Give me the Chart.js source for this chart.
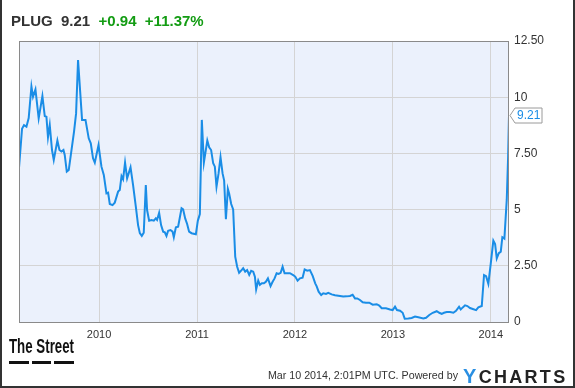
<!DOCTYPE html>
<html>
<head>
<meta charset="utf-8">
<script src="https://cdn.jsdelivr.net/npm/chart.js@4/dist/chart.umd.min.js"></script>
<style>
  html, body { margin: 0; padding: 0; background: #fff; }
  #wrap { position: relative; width: 575px; height: 388px; overflow: hidden; font-family: "Liberation Sans", Arial, sans-serif; }
  #frame { position: absolute; left: 0; top: 0; width: 575px; height: 388px; box-sizing: border-box;
           border-left: 2px solid #333; border-right: 2px solid #333; border-bottom: 2px solid #333; pointer-events: none; }
  canvas { position: absolute; left: 0; top: 0; }
  #title { position: absolute; left: 11px; top: 12px; font-size: 15px; font-weight: bold; color: #333; white-space: nowrap; }
  #title .up { color: #139c13; }
  #street { position: absolute; left: 9px; top: 336px; width: 66px; height: 30px; }
  #street .name { position: absolute; left: 0; top: 0; font-family: "Liberation Sans", Arial, sans-serif; font-weight: bold;
                  font-size: 18px; color: #111; line-height: 18px; white-space: nowrap;
                  transform-origin: top left; }
  #street .dash { position: absolute; top: 25px; height: 3px; background: #111; }
  #stamp { position: absolute; right: 117px; top: 369px; font-size: 10.7px; color: #333; white-space: nowrap; }
  #ycharts { position: absolute; left: 463px; top: 365px; font-size: 18px; font-weight: bold; letter-spacing: 2.3px; color: #222; white-space: nowrap; }
  #ycharts .y { color: #2a8fe2; font-size: 20px; }
</style>
</head>
<body>
<div id="wrap">
  <canvas id="chart" width="575" height="388"></canvas>
  <div id="title">PLUG&nbsp;&nbsp;9.21&nbsp;&nbsp;<span class="up">+0.94</span>&nbsp;&nbsp;<span class="up">+11.37%</span></div>
  <div id="street"><span class="name" id="streetName">The Street</span>
    <div class="dash" style="left:0;width:20px"></div>
    <div class="dash" style="left:23px;width:19px"></div>
    <div class="dash" style="left:45px;width:20px"></div>
  </div>
  <div id="stamp">Mar 10 2014, 2:01PM UTC. Powered by</div>
  <div id="ycharts"><span class="y">Y</span>CHARTS</div>
  <div id="frame"></div>
</div>
<script>
// PLUG share price, decimal years
const dates = [
  2009.182, 2009.213, 2009.233, 2009.258, 2009.281, 2009.309, 2009.325, 2009.350, 2009.383, 2009.421,
  2009.445, 2009.462, 2009.478, 2009.496, 2009.519, 2009.537, 2009.574, 2009.595, 2009.615, 2009.636,
  2009.649, 2009.670, 2009.690, 2009.718, 2009.744, 2009.765, 2009.785, 2009.826, 2009.861, 2009.894,
  2009.915, 2009.938, 2009.956, 2009.994, 2010.024, 2010.048, 2010.075, 2010.092, 2010.109, 2010.137,
  2010.160, 2010.194, 2010.211, 2010.229, 2010.245, 2010.265, 2010.286, 2010.321, 2010.347, 2010.375,
  2010.398, 2010.416, 2010.436, 2010.456, 2010.477, 2010.490, 2010.511, 2010.535, 2010.559, 2010.579,
  2010.592, 2010.613, 2010.633, 2010.654, 2010.671, 2010.688, 2010.705, 2010.729, 2010.750, 2010.763,
  2010.784, 2010.807, 2010.842, 2010.858, 2010.879, 2010.899, 2010.919, 2010.944, 2010.988, 2011.008,
  2011.029, 2011.049, 2011.070, 2011.105, 2011.124, 2011.144, 2011.165, 2011.182, 2011.199, 2011.220,
  2011.240, 2011.261, 2011.277, 2011.295, 2011.315, 2011.328, 2011.349, 2011.369, 2011.390, 2011.410,
  2011.430, 2011.455, 2011.471, 2011.492, 2011.512, 2011.533, 2011.553, 2011.574, 2011.591, 2011.604,
  2011.625, 2011.642, 2011.662, 2011.683, 2011.703, 2011.724, 2011.751, 2011.772, 2011.792, 2011.813,
  2011.833, 2011.854, 2011.874, 2011.894, 2011.949, 2011.982, 2012.003, 2012.027, 2012.051, 2012.078,
  2012.099, 2012.125, 2012.153, 2012.181, 2012.207, 2012.221, 2012.242, 2012.268, 2012.289, 2012.317,
  2012.340, 2012.375, 2012.409, 2012.460, 2012.493, 2012.528, 2012.562, 2012.589, 2012.613, 2012.636,
  2012.664, 2012.692, 2012.725, 2012.759, 2012.794, 2012.835, 2012.861, 2012.886, 2012.930, 2012.971,
  2012.998, 2013.022, 2013.042, 2013.073, 2013.100, 2013.121, 2013.158, 2013.192, 2013.226, 2013.260,
  2013.311, 2013.339, 2013.372, 2013.407, 2013.448, 2013.474, 2013.499, 2013.522, 2013.550, 2013.584,
  2013.618, 2013.645, 2013.676, 2013.693, 2013.714, 2013.737, 2013.761, 2013.788, 2013.816, 2013.850,
  2013.873, 2013.908, 2013.931, 2013.952, 2013.975, 2014.000, 2014.026, 2014.044, 2014.061, 2014.082,
  2014.102, 2014.118, 2014.139, 2014.163, 2014.177, 2014.186
];
const prices = [
  6.85, 8.60, 8.76, 8.69, 9.07, 10.47, 10.02, 10.35, 9.06, 10.05,
  9.16, 9.13, 8.22, 8.76, 7.65, 7.21, 8.07, 7.65, 7.58, 7.65,
  7.43, 6.69, 6.76, 7.65, 8.47, 9.28, 11.65, 8.99, 8.99, 8.17,
  7.95, 7.28, 7.09, 7.87, 6.91, 6.54, 5.72, 5.75, 5.25, 5.20,
  5.31, 5.80, 5.87, 6.49, 6.35, 7.09, 6.39, 6.88, 6.09, 5.13,
  4.31, 3.95, 3.83, 3.97, 6.09, 4.98, 4.51, 4.54, 4.51, 4.61,
  4.54, 4.86, 4.31, 4.02, 3.99, 3.83, 4.06, 4.09, 4.02, 3.77,
  4.21, 4.24, 5.06, 5.01, 4.61, 4.36, 4.02, 3.95, 3.90, 4.50,
  4.80, 8.99, 7.09, 8.07, 7.77, 7.65, 7.06, 6.91, 6.02, 6.61,
  7.33, 6.61, 6.29, 4.57, 5.92, 5.72, 5.25, 5.01, 2.91, 2.46,
  2.19, 2.31, 2.39, 2.24, 2.31, 2.10, 2.28, 2.24, 2.02, 1.45,
  1.84, 1.65, 1.72, 1.72, 1.79, 1.94, 1.60, 1.79, 1.94, 2.17,
  2.14, 2.19, 2.46, 2.17, 2.17, 2.09, 2.02, 1.84, 1.94, 1.97,
  2.34, 2.28, 2.31, 2.05, 1.72, 1.60, 1.35, 1.20, 1.28, 1.25,
  1.30, 1.23, 1.19, 1.16, 1.13, 1.14, 1.16, 1.21, 1.05, 1.05,
  0.98, 0.88, 0.86, 0.86, 0.77, 0.79, 0.73, 0.61, 0.61, 0.56,
  0.53, 0.68, 0.53, 0.50, 0.41, 0.15, 0.16, 0.18, 0.24, 0.21,
  0.16, 0.19, 0.31, 0.41, 0.48, 0.41, 0.36, 0.41, 0.44, 0.44,
  0.41, 0.50, 0.68, 0.56, 0.65, 0.74, 0.71, 0.62, 0.58, 0.53,
  0.65, 0.71, 2.09, 2.04, 1.70, 2.61, 3.62, 3.47, 2.83, 3.06,
  3.13, 3.77, 3.71, 5.43, 7.35, 9.21
];
const yearTicks = [2010, 2011, 2012, 2013, 2014];
const yTickValues = [0, 2.5, 5, 7.5, 10, 12.5];
const yTickLabels = ['0', '2.50', '5', '7.50', '10', '12.50'];

const lineColor = '#1a8de6';

// squeeze the logo text to its width
const sn = document.getElementById('streetName');
sn.style.transform = 'scale(' + (65 / sn.offsetWidth) + ', 1.15)';

const plotBg = {
  id: 'plotBg',
  beforeDraw(chart) {
    const { ctx, chartArea: a } = chart;
    ctx.save();
    ctx.fillStyle = '#ebf1fc';
    ctx.fillRect(a.left, a.top, a.right - a.left, a.bottom - a.top);
    ctx.restore();
  },
  afterDatasetsDraw(chart) {
    const { ctx, chartArea: a } = chart;
    ctx.save();
    ctx.strokeStyle = '#8a8a8a';
    ctx.lineWidth = 1;
    ctx.strokeRect(a.left + 0.5, a.top + 0.5, a.right - a.left - 1, a.bottom - a.top);
    ctx.restore();
  }
};

// last value tag on the right axis
const lastTag = {
  id: 'lastTag',
  afterDraw(chart) {
    const meta = chart.getDatasetMeta(0);
    const pt = meta.data[meta.data.length - 1];
    const ctx = chart.ctx;
    const x = chart.chartArea.right + 1, y = Math.round(pt.y) + 0.5;
    ctx.save();
    ctx.beginPath();
    ctx.moveTo(x, y);
    ctx.lineTo(x + 5, y - 7.5);
    ctx.lineTo(x + 32, y - 7.5);
    ctx.lineTo(x + 32, y + 7.5);
    ctx.lineTo(x + 5, y + 7.5);
    ctx.closePath();
    ctx.fillStyle = '#fff';
    ctx.fill();
    ctx.strokeStyle = '#9a9a9a';
    ctx.lineWidth = 1;
    ctx.stroke();
    ctx.fillStyle = lineColor;
    ctx.font = '12px "Liberation Sans", Arial, sans-serif';
    ctx.textBaseline = 'middle';
    ctx.fillText(prices[prices.length - 1].toFixed(2), x + 7, y + 0.5);
    ctx.restore();
  }
};

new Chart(document.getElementById('chart'), {
  type: 'line',
  data: {
    datasets: [{
      data: dates.map((d, i) => ({ x: d, y: prices[i] })),
      borderColor: lineColor,
      borderWidth: 2,
      pointRadius: 0,
      tension: 0,
      fill: false
    }]
  },
  options: {
    responsive: false,
    animation: false,
    layout: { padding: { left: 19, top: 41, right: 0, bottom: 0 } },
    plugins: { legend: { display: false }, tooltip: { enabled: false } },
    scales: {
      x: {
        type: 'linear',
        min: dates[0],
        max: dates[dates.length - 1],
        afterBuildTicks(scale) { scale.ticks = yearTicks.map(v => ({ value: v })); },
        afterFit(scale) { scale.height = 66; },
        grid: { color: '#d4d4d4', drawTicks: false, tickLength: 0 },
        border: { display: false },
        ticks: {
          color: '#333', padding: 6, maxRotation: 0, autoSkip: false,
          font: { family: '"Liberation Sans", Arial, sans-serif', size: 11 },
          callback: v => String(v)
        }
      },
      y: {
        position: 'right',
        min: 0,
        max: 12.5,
        afterBuildTicks(scale) { scale.ticks = yTickValues.map(v => ({ value: v })); },
        afterFit(scale) { scale.width = 66; },
        grid: { color: '#d4d4d4', drawTicks: false, tickLength: 0 },
        border: { display: false },
        ticks: {
          color: '#333', padding: 5,
          font: { family: '"Liberation Sans", Arial, sans-serif', size: 12 },
          callback: (v) => yTickLabels[yTickValues.indexOf(v)]
        }
      }
    }
  },
  plugins: [plotBg, lastTag]
});
</script>
</body>
</html>
